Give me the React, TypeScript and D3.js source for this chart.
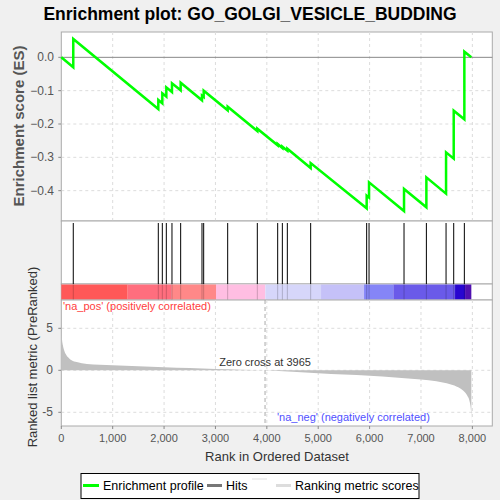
import * as d3 from 'd3'
import { useEffect } from 'react'

const title = 'Enrichment plot: GO_GOLGI_VESICLE_BUDDING'
const totalRanks = 7980
const zeroCross = 3965

// hit positions in the ranked list and the running ES just before / after each hit
const hitRanks = [233, 1888, 1966, 2044, 2154, 2323, 2738, 2771, 3238, 3815, 4211, 4302, 4399, 4853, 5943, 5989, 6670, 7105, 7488, 7637, 7844]
const esBefore = [-0.03, -0.155, -0.138, -0.118, -0.104, -0.099, -0.129, -0.119, -0.159, -0.221, -0.264, -0.272, -0.28, -0.332, -0.453, -0.421, -0.461, -0.45, -0.409, -0.304, -0.186]
const esAfter = [0.055, -0.128, -0.108, -0.09, -0.078, -0.076, -0.115, -0.1, -0.148, -0.214, -0.26, -0.268, -0.274, -0.317, -0.415, -0.375, -0.395, -0.36, -0.285, -0.16, 0.017]

// ranking metric samples
const metricRanks = [0, 10, 30, 60, 100, 150, 200, 300, 500, 1000, 1500, 2000, 2500, 3000, 3500, 3965, 4500, 5000, 5500, 6000, 6500, 7000, 7300, 7500, 7700, 7800, 7900, 7950, 7975, 7980]
const metricValues = [5.3, 4.0, 3.0, 2.3, 1.8, 1.45, 1.2, 0.98, 0.75, 0.6, 0.47, 0.36, 0.26, 0.16, 0.08, 0, -0.17, -0.34, -0.5, -0.65, -0.85, -1.1, -1.3, -1.55, -1.95, -2.3, -3.0, -3.8, -5.0, -6.0]

// colour bar bands
const bandEdges = [0, 1292, 2149, 3011, 3971, 5055, 5892, 6462, 7663, 7858, 7980]
const bandColors = ['#ff5858', '#ff6e7e', '#ff8888', '#ffbee2', '#d6d6fa', '#c5c1f8', '#8585f7', '#6a5ae9', '#2806d0', '#5010b0']

const esTicks = [0, -0.1, -0.2, -0.3, -0.4]
const metricTicks = [5, 0, -5]
const rankTicks = [0, 1000, 2000, 3000, 4000, 5000, 6000, 7000, 8000]

const left = 61.3
const right = 492.3
const esTop = 32
const esBottom = 221
const hitsBottom = 284
const barBottom = 300
const metricBottom = 426

const font = 'Arial, "Liberation Sans", sans-serif'

export default function App() {
  useEffect(() => {
    document.body.style.margin = '0'
  }, [])

  const x = d3.scaleLinear().domain([0, 8388]).range([left, right])
  const yEs = d3.scaleLinear().domain([-0.491, 0.076]).range([esBottom, esTop])
  const yM = d3.scaleLinear().domain([-6.63, 8.37]).range([metricBottom, barBottom])

  const esPoints: [number, number][] = [[0, 0]]
  hitRanks.forEach((r, i) => {
    esPoints.push([r, esBefore[i]])
    esPoints.push([r, esAfter[i]])
  })
  esPoints.push([totalRanks, 0])
  const esLine = d3.line<[number, number]>().x((d) => x(d[0])).y((d) => yEs(d[1]))

  const metricArea = d3
    .area<number>()
    .x((_, i) => x(metricRanks[i]))
    .y0(yM(0))
    .y1((d) => yM(d))
    .curve(d3.curveMonotoneX)

  const grid = '#dcdcdc'

  return (
    <svg width={500} height={500} style={{ display: 'block', background: '#f0f0f0' }} fontFamily={font}>
      <text x={250} y={20} textAnchor="middle" fontSize={17.5} fontWeight="bold">
        {title}
      </text>

      {/* ES panel */}
      <rect x={left} y={esTop} width={right - left} height={esBottom - esTop} fill="#fff" stroke="#aaa" />
      {rankTicks.slice(1).map((t) => (
        <line key={t} x1={x(t)} x2={x(t)} y1={esTop} y2={esBottom} stroke={grid} strokeDasharray="3,3" />
      ))}
      {esTicks.slice(1).map((t) => (
        <line key={t} x1={left} x2={right} y1={yEs(t)} y2={yEs(t)} stroke={grid} strokeDasharray="3,3" />
      ))}
      <line x1={left} x2={right} y1={yEs(0)} y2={yEs(0)} stroke="#888" />
      {esTicks.map((t) => (
        <g key={t}>
          <line x1={left - 3} x2={left} y1={yEs(t)} y2={yEs(t)} stroke="#888" />
          <text x={54} y={yEs(t) + 4} textAnchor="end" fontSize={12} fill="#555">
            {d3.format('.1f')(t)}
          </text>
        </g>
      ))}
      <path d={esLine(esPoints) ?? ''} fill="none" stroke="#00ff00" strokeWidth={2.5} />
      <text transform={`translate(24,126) rotate(-90)`} textAnchor="middle" fontSize={15} fontWeight="bold" fill="#555">
        Enrichment score (ES)
      </text>

      {/* hits panel */}
      <rect x={left} y={esBottom} width={right - left} height={hitsBottom - esBottom} fill="#fff" stroke="#aaa" />
      <rect x={left} y={hitsBottom} width={right - left} height={barBottom - hitsBottom} fill="#fff" stroke="#aaa" />
      {bandColors.map((c, i) => (
        <rect
          key={i}
          x={x(bandEdges[i])}
          y={hitsBottom + 0.5}
          width={x(bandEdges[i + 1]) - x(bandEdges[i])}
          height={barBottom - hitsBottom - 1}
          fill={c}
        />
      ))}
      {hitRanks.map((r) => (
        <g key={r}>
          <line x1={x(r)} x2={x(r)} y1={esBottom + 2} y2={hitsBottom} stroke="#000" />
          <line x1={x(r)} x2={x(r)} y1={hitsBottom} y2={barBottom} stroke="#000" strokeOpacity={0.2} />
        </g>
      ))}

      {/* metric panel */}
      <rect x={left} y={barBottom} width={right - left} height={metricBottom - barBottom} fill="#fff" stroke="#aaa" />
      {rankTicks.slice(1).map((t) => (
        <line key={t} x1={x(t)} x2={x(t)} y1={barBottom} y2={metricBottom} stroke={grid} strokeDasharray="3,3" />
      ))}
      {metricTicks.map((t) => (
        <line key={t} x1={left} x2={right} y1={yM(t)} y2={yM(t)} stroke={grid} strokeDasharray="3,3" />
      ))}
      <path d={metricArea(metricValues) ?? ''} fill="#c0c0c0" />
      <line x1={x(zeroCross)} x2={x(zeroCross)} y1={barBottom} y2={metricBottom} stroke="#aaa" strokeDasharray="4,3" />
      <text x={x(zeroCross)} y={366} textAnchor="middle" fontSize={11} fill="#333">
        Zero cross at {zeroCross}
      </text>
      <text x={63} y={310} fontSize={11} fill="#ff4040">
        'na_pos' (positively correlated)
      </text>
      <text x={277} y={421} fontSize={11} fill="#5050ff">
        'na_neg' (negatively correlated)
      </text>
      {metricTicks.map((t) => (
        <g key={t}>
          <line x1={left - 3} x2={left} y1={yM(t)} y2={yM(t)} stroke="#888" />
          <text x={53} y={yM(t) + 4} textAnchor="end" fontSize={12} fill="#555">
            {t}
          </text>
        </g>
      ))}
      {rankTicks.map((t) => (
        <g key={t}>
          <line x1={x(t)} x2={x(t)} y1={metricBottom} y2={metricBottom + 3} stroke="#888" />
          <text x={x(t)} y={442} textAnchor="middle" fontSize={11} fill="#555">
            {d3.format(',')(t)}
          </text>
        </g>
      ))}
      <text transform={`translate(37,357) rotate(-90)`} textAnchor="middle" fontSize={13} fill="#333">
        Ranked list metric (PreRanked)
      </text>
      <text x={277} y={461} textAnchor="middle" fontSize={13} fill="#333">
        Rank in Ordered Dataset
      </text>

      {/* legend */}
      <rect x={81} y={473.5} width={338} height={25} fill="#fff" stroke="#000" />
      <line x1={83} x2={99} y1={485.5} y2={485.5} stroke="#00ff00" strokeWidth={3} />
      <text x={103} y={490} fontSize={12.5}>Enrichment profile</text>
      <line x1={207} x2={222} y1={485.5} y2={485.5} stroke="#777" strokeWidth={3} />
      <text x={226} y={490} fontSize={12.5}>Hits</text>
      <line x1={252} x2={267} y1={479} y2={479} stroke="#f0f0f0" strokeWidth={2} />
      <line x1={276} x2={291} y1={485.5} y2={485.5} stroke="#ddd" strokeWidth={3} />
      <text x={295} y={490} fontSize={12.5}>Ranking metric scores</text>
    </svg>
  )
}
